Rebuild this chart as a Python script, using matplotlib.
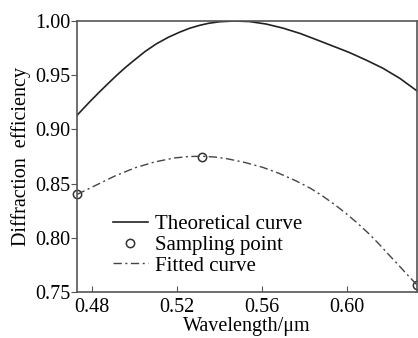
import matplotlib
matplotlib.use("Agg")
import matplotlib.pyplot as plt

plt.rcParams['font.family'] = ['Liberation Serif', 'DejaVu Serif']

# Theoretical curve
theo_x = [0.473, 0.4790, 0.4838, 0.4880, 0.4920, 0.4960, 0.4994, 0.5050, 0.5104, 0.5160,
          0.5213, 0.5260, 0.5307, 0.5350, 0.5400, 0.5470, 0.5542, 0.5620, 0.5698,
          0.5780, 0.5855, 0.5930, 0.6011, 0.6090, 0.6168, 0.6250, 0.6330]
theo_y = [0.913, 0.9255, 0.9350, 0.9430, 0.9505, 0.9575, 0.9630, 0.9718, 0.9790, 0.9850,
          0.9897, 0.9933, 0.9960, 0.9979, 0.9993, 1.0000, 0.9995, 0.9972, 0.9935,
          0.9885, 0.9829, 0.9772, 0.9710, 0.9640, 0.9566, 0.9470, 0.9355]

# Fitted curve
fit_x = [0.473, 0.4814, 0.4908, 0.5002, 0.5096, 0.5190, 0.5260, 0.5318, 0.5380, 0.5440,
         0.5520, 0.5604, 0.5680, 0.5761, 0.5830, 0.5886, 0.5940, 0.5996, 0.6050,
         0.6105, 0.6150, 0.6199, 0.6240, 0.6277, 0.6330]
fit_y = [0.840, 0.8480, 0.8570, 0.8645, 0.8700, 0.8737, 0.8750, 0.8752, 0.8745, 0.8728,
         0.8695, 0.8650, 0.8595, 0.8525, 0.8455, 0.8385, 0.8310, 0.8225, 0.8135,
         0.8035, 0.7945, 0.7840, 0.7755, 0.7675, 0.7565]

# Sampling points
samp_x = [0.473, 0.5318, 0.633]
samp_y = [0.840, 0.875, 0.7565]

x_ticks = [0.48, 0.52, 0.56, 0.60]
y_ticks = [0.75, 0.80, 0.85, 0.90, 0.95, 1.00]

fig = plt.figure(figsize=(4.18, 3.38), dpi=100)
ax = fig.add_axes([77/418, 1 - 292/338, (417 - 77)/418, (292 - 21)/338])

ax.plot(theo_x, theo_y, color='#222222', lw=1.2, label='Theoretical curve')
ax.plot(samp_x, samp_y, 'o', mfc='none', mec='#333333', ms=6, mew=1.1,
        label='Sampling point', clip_on=False)
ax.plot(fit_x, fit_y, color='#444444', lw=1.0, ls=(0, (6, 2.5, 1.5, 2.5)),
        label='Fitted curve')

ax.set_xlim(0.473, 0.633)
ax.set_ylim(0.75, 1.00)
ax.set_xticks(x_ticks)
ax.set_xticklabels(['%.2f' % v for v in x_ticks])
ax.set_yticks(y_ticks)
ax.set_yticklabels(['%.2f' % v for v in y_ticks])

for s in ax.spines.values():
    s.set_color('#555555')
    s.set_linewidth(1.2)
ax.tick_params(axis='x', direction='in', length=4, color='#555555', labelsize=14.5, pad=4)
ax.tick_params(axis='y', direction='out', length=4, color='#555555', labelsize=14.5, pad=1)

ax.set_xlabel('Wavelength/μm', fontsize=14.5, labelpad=0)
ax.set_ylabel('Diffraction  efficiency', fontsize=14.5, labelpad=3)

leg = ax.legend(loc='lower left', bbox_to_anchor=(0.082, 0.03), frameon=False,
                fontsize=15, handlelength=1.65, handletextpad=0.35,
                labelspacing=0.05, borderaxespad=0)

fig.savefig('out.png', dpi=100)
